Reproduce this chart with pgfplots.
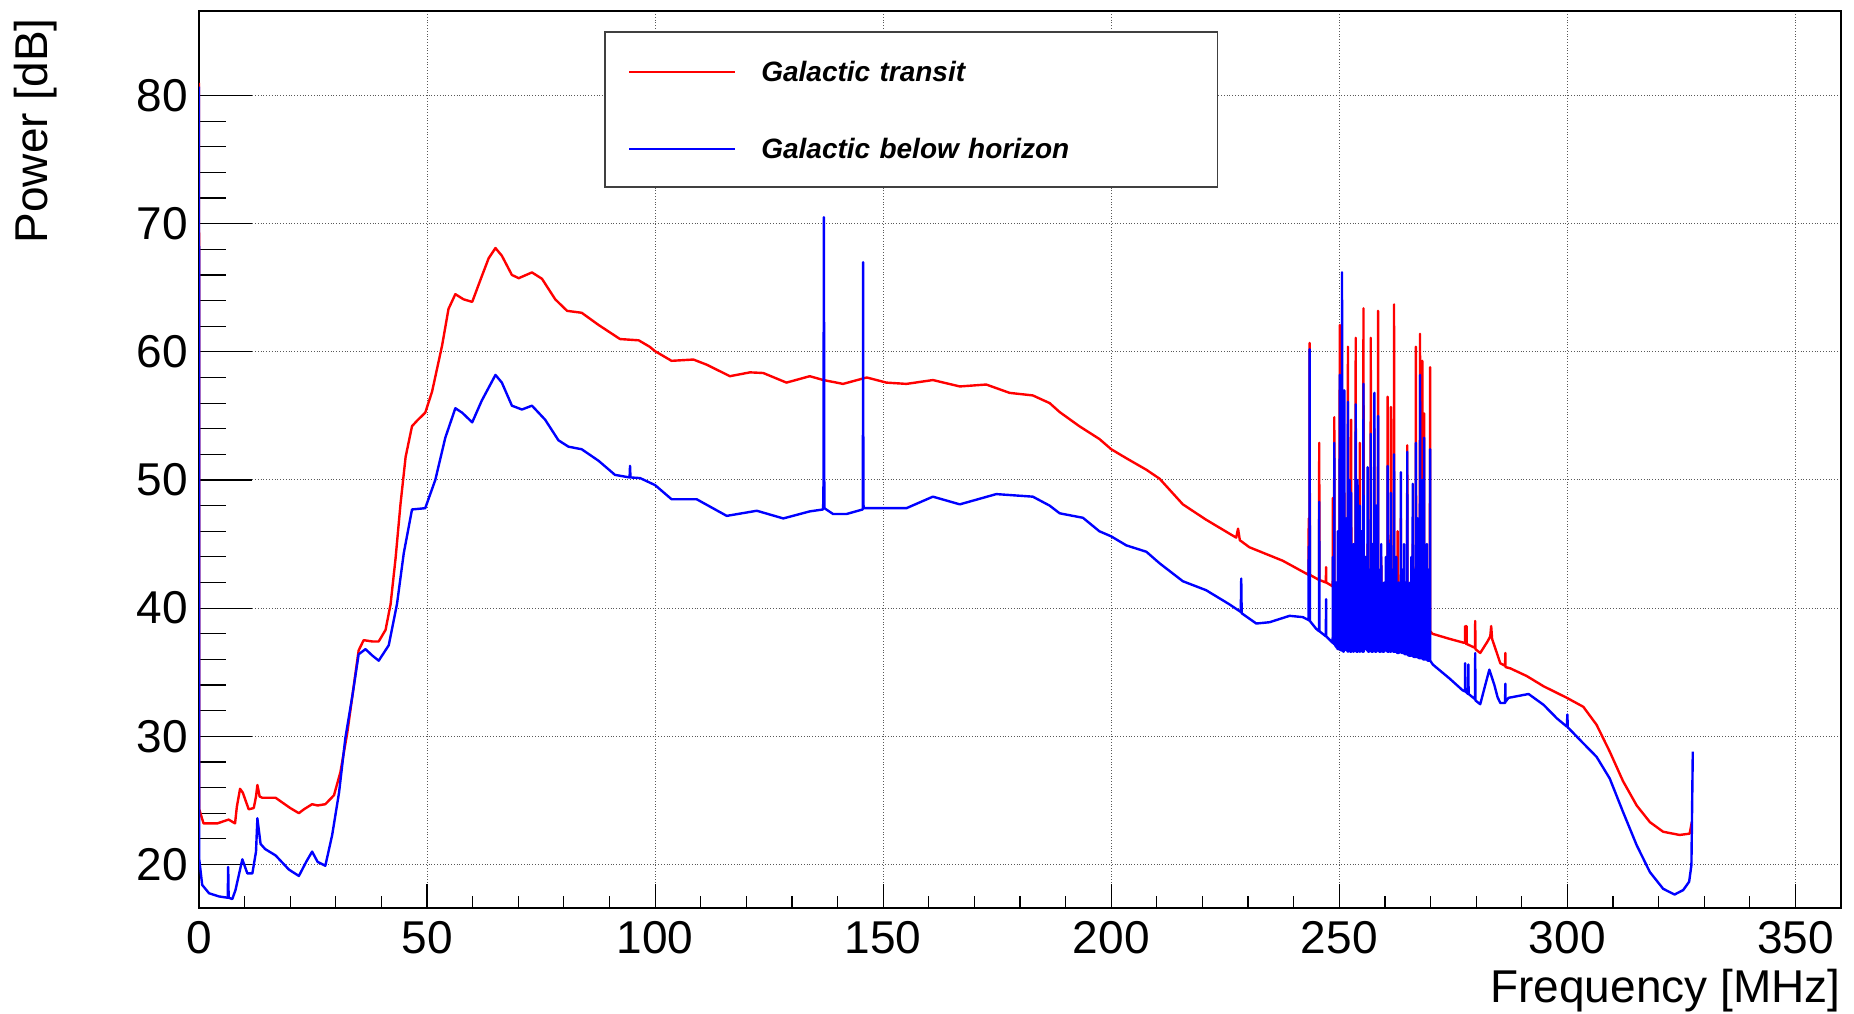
\documentclass[border=0pt]{standalone}
\usepackage{fontspec}
\setmainfont{Liberation Sans}
\usepackage{pgfplots}
\pgfplotsset{compat=1.18}
\begin{document}
\begin{tikzpicture}
\pgfplotsset{
  myax/.style={
    scale only axis, width=821pt, height=448.5pt,
    xmin=0, xmax=360, ymin=16.6, ymax=86.6,
    tick pos=left, tick align=inside,
    /pgf/number format/assume math mode=true,
  }
}
% background axis: frame, grid, x ticks, tick labels, axis titles
\begin{axis}[myax, name=axA,
  axis line style={line width=0.6pt, black},
  xtick={0,50,...,350}, minor x tick num=4,
  ytick={20,30,...,80}, minor y tick num=4,
  major tick length=12pt, minor tick length=6pt,
  tick style={line width=0.6pt, black},
  grid=major,
  major grid style={densely dotted, black!65, line width=0.5pt},
  tick label style={font=\fontsize{23}{23}\selectfont},
  xticklabel style={anchor=north, inner sep=0pt, yshift=-6.5pt},
  yticklabel style={anchor=east, inner sep=0pt, xshift=-5.5pt},
  xlabel={Frequency [MHz]}, ylabel={Power [dB]},
  every axis x label/.style={at={(axis description cs:1,-0.1048)}, anchor=base east, inner sep=0pt, font=\fontsize{23}{23}\selectfont},
  every axis y label/.style={at={(axis description cs:-0.0920,0.9922)}, rotate=90, anchor=base east, inner sep=0pt, font=\fontsize{23}{23}\selectfont},
]
\end{axis}
% foreground axis: data, legend, long y ticks
\begin{axis}[myax, name=ax,
  axis line style={draw=none},
  xtick=\empty,
  ytick={20,30,...,80}, minor y tick num=4, yticklabels={},
  major tick length=26.5pt, minor tick length=13.5pt,
  tick style={line width=0.6pt, black},
  legend image code/.code={\draw[#1] (0pt,5pt) -- (53pt,5pt);},
  legend style={at={(0.2467,0.9777)}, anchor=north west,
    draw=black!75, line width=0.8pt, fill=white,
    inner xsep=11.5pt, inner ysep=10pt, row sep=19.5pt, column sep=12.5pt,
    nodes={inner sep=0pt, text height=15pt, text depth=4pt, text width=216.5pt, align=left},
    cells={anchor=base west},
    font=\fontsize{14}{16}\selectfont\bfseries\itshape},
]
\addplot[color=red, line width=1.2pt, line join=round] coordinates {
(0,81.0) (0.05,24.3) (1,23.2) (4,23.2) (6.5,23.5) (7.9,23.2) (8.3,24.5) (9.0,25.9) (9.6,25.6) (10.9,24.3) (12.0,24.4) (12.5,25.3) (12.8,26.2) (13.3,25.3) (13.9,25.2) (16.8,25.2) (18,24.9) (20,24.4) (21.9,24.0) (23,24.3) (24.8,24.7) (26,24.6) (27.7,24.7) (29.6,25.4) (31,27.2) (32.5,30.25) (33.9,33.85) (35,36.7) (36.1,37.5) (38,37.4) (39.4,37.4) (40.9,38.3) (42,40.3) (43.1,43.9) (44.2,48.2) (45.3,51.8) (46.7,54.2) (48,54.7) (49.6,55.25) (51.1,56.9) (53.3,60.5) (54.7,63.35) (56.2,64.5) (58,64.1) (59.9,63.9) (62,65.9) (63.5,67.3) (65,68.1) (66.4,67.5) (68.6,66.0) (70.1,65.75) (73,66.2) (75.2,65.7) (78.1,64.1) (80.7,63.2) (83.9,63.05) (87.6,62.1) (92.3,61.0) (96.4,60.9) (98.8,60.4) (100,60.05) (103.6,59.3) (108.4,59.4) (111.3,59.0) (116.4,58.1) (120.8,58.4) (123.7,58.35) (128.8,57.6) (133.9,58.1) (136.9,57.8) (141.2,57.5) (146.4,58.0) (150.7,57.6) (155.1,57.5) (160.9,57.8) (166.8,57.3) (172.6,57.45) (177.7,56.8) (182.8,56.6) (186.5,56.0) (188.7,55.3) (193,54.2) (197.4,53.2) (200,52.4) (203.3,51.7) (207.7,50.8) (210.6,50.1) (215.7,48.1) (220.8,46.9) (227.4,45.5) (227.8,46.2) (228.2,45.3) (230.3,44.75) (237.6,43.7)
(243.25,42.6) (243.3,47.0) (243.35,42.6) (243.45,42.6) (243.5,60.7) (243.55,42.6) (245.55,42.2) (245.6,52.9) (245.65,42.2) (247.05,42.0) (247.1,43.2) (247.15,42.0) (248.55,41.7) (248.6,48.6) (248.65,41.7) (248.85,41.7) (248.9,54.9) (248.95,41.7) (250.05,41.5) (250.1,62.1) (250.15,41.5) (251.05,41.3) (251.1,49) (251.15,41.3) (251.85,41.2) (251.9,60.4) (251.95,41.2) (252.55,41.1) (252.6,54.7) (252.65,41.1) (253.05,41.0) (253.1,43) (253.15,41.0) (253.55,40.9) (253.6,61.1) (253.65,40.9) (253.95,40.8) (254.0,46) (254.05,40.8) (254.45,40.8) (254.5,52.9) (254.55,40.8) (255.25,40.6) (255.3,63.4) (255.35,40.6) (256.15,40.5) (256.2,45) (256.25,40.5) (256.85,40.4) (256.9,61.1) (256.95,40.4) (257.65,40.2) (257.7,54) (257.75,40.2) (258.45,40.1) (258.5,63.2) (258.55,40.1) (259.15,40.0) (259.2,44) (259.25,40.0) (260.55,39.7) (260.6,56.5) (260.65,39.7) (261.25,39.6) (261.3,55.7) (261.35,39.6) (261.95,39.5) (262.0,63.7) (262.05,39.5) (262.75,39.4) (262.8,46) (262.85,39.4) (263.45,39.3) (263.5,47) (263.55,39.3) (264.85,39.0) (264.9,52.7) (264.95,39.0) (266.05,38.8) (266.1,45) (266.15,38.8) (266.75,38.7) (266.8,60.4) (266.85,38.7) (267.65,38.6) (267.7,61.4) (267.75,38.6) (268.15,38.5) (268.2,59.3) (268.25,38.5) (268.55,38.4) (268.6,55.2) (268.65,38.4) (269.85,38.2) (269.9,58.8) (269.95,38.2)
(270.4,38.0) (274.2,37.6) (277.3,37.3) (277.55,37.3) (277.6,38.6) (277.65,37.3) (277.85,37.2) (277.9,38.6) (277.95,37.2) (279.75,36.9) (279.8,39.0) (279.85,36.8) (280.9,36.5) (282.5,37.4) (283.1,37.8) (283.3,38.6) (283.5,37.6) (285.3,35.7) (286.35,35.5) (286.4,36.5) (286.45,35.4) (287.5,35.3) (291.1,34.7) (294.8,33.9) (299.9,33.0) (303.5,32.3) (306.4,30.9) (309.3,28.8) (312.2,26.5) (315.2,24.6) (318.1,23.3) (321.0,22.55) (324.6,22.3) (326.8,22.4) (327.3,23.3)
};
\addlegendentry{Galactic transit}
\addplot[color=blue, line width=1.2pt, line join=round] coordinates {
(0,80.7) (0.05,20.4) (0.7,18.4) (2.2,17.75) (4.4,17.5) (6.3,17.4) (6.4,19.8) (6.5,17.4) (7.3,17.3) (8.0,18.0) (9.5,20.4) (10.6,19.3) (11.7,19.3) (12.5,21) (12.8,23.6) (13.5,21.6) (14.5,21.2) (16.8,20.7) (19.7,19.6) (21.9,19.1) (23.5,20.2) (24.8,21.0) (26,20.2) (27.7,19.9) (29.2,22.3) (30.7,25.6) (32.1,29.9) (33.6,33.1) (35,36.4) (36.5,36.8) (38,36.3) (39.4,35.9) (41.6,37.1) (43.4,40.3) (44.9,44.3) (46.7,47.7) (49.6,47.8) (51.8,50.0) (54,53.3) (56.2,55.6) (57.7,55.25) (59.9,54.5) (62,56.2) (65,58.2) (66.4,57.6) (68.6,55.8) (70.8,55.5) (73,55.8) (75.9,54.7) (78.8,53.1) (81,52.6) (83.9,52.4) (87.6,51.5) (91.2,50.4) (94.4,50.2) (94.5,51.1) (94.6,50.2) (96.7,50.15) (98.8,49.8) (100,49.6) (103.6,48.5) (109.1,48.5) (115.7,47.2) (122.3,47.6) (128.1,47.0) (133.9,47.55) (136.8,47.7) (136.9,48.5) (137.0,70.5) (137.1,47.8) (139,47.35) (142,47.35) (145.5,47.7) (145.55,48.0) (145.6,67.0) (145.65,50.5) (145.7,47.8) (150.7,47.8) (155.1,47.8) (160.9,48.7) (166.8,48.1) (174.8,48.9) (182.8,48.7) (186.5,48.0) (188.7,47.4) (193.8,47.05) (197.4,46.0) (200,45.6) (203.3,44.9) (207.7,44.4) (210.6,43.5) (215.7,42.1) (220.8,41.4) (225.9,40.3) (228.4,39.7) (228.5,42.3) (228.6,39.6) (231.8,38.8) (234.7,38.9) (239.1,39.4) (242,39.3) (243.1,39.1)
(243.25,39.1) (243.3,44.8) (243.35,39.1) (243.45,39.0) (243.5,60.2) (243.55,39.0) (244.9,38.4) (245.55,38.2) (245.6,48.3) (245.65,38.2) (247.05,37.8) (247.1,40.7) (247.15,37.8) (248.5,37.3) (248.55,37.3) (248.6,44) (248.65,37.3) (248.85,37.2) (248.9,52.9) (248.95,37.2)
(249.26,37.0) (249.3,42) (249.34,37.0) (249.46,36.9) (249.5,40) (249.54,36.9) (249.66,36.8) (249.7,46) (249.74,36.8) (249.86,36.8) (249.9,41) (249.94,36.8) (250.06,36.9) (250.1,58.2) (250.14,36.9) (250.21,36.8) (250.25,43) (250.29,36.8) (250.36,36.7) (250.4,48) (250.44,36.7) (250.56,36.8) (250.6,66.2) (250.64,36.8) (250.71,36.7) (250.75,41) (250.79,36.7) (250.86,36.6) (250.9,45) (250.94,36.6) (251.06,36.7) (251.1,57.0) (251.14,36.7) (251.26,36.8) (251.3,42) (251.34,36.8) (251.46,36.9) (251.5,47) (251.54,36.9) (251.66,36.7) (251.7,40) (251.74,36.7) (251.86,36.6) (251.9,56.1) (251.94,36.6) (252.06,36.7) (252.1,41) (252.14,36.7) (252.26,36.7) (252.3,50) (252.34,36.7) (252.41,36.6) (252.45,42) (252.49,36.6) (252.56,36.6) (252.6,49) (252.64,36.6) (252.71,36.7) (252.75,40) (252.79,36.7) (252.86,36.8) (252.9,43) (252.94,36.8) (253.06,36.6) (253.1,45) (253.14,36.6) (253.31,36.7) (253.35,41) (253.39,36.7) (253.56,36.7) (253.6,55.9) (253.64,36.7) (253.76,36.6) (253.8,42) (253.84,36.6) (253.96,36.6) (254.0,50) (254.04,36.6) (254.11,36.7) (254.15,40) (254.19,36.7) (254.26,36.8) (254.3,44) (254.34,36.8) (254.46,36.6) (254.5,48) (254.54,36.6) (254.66,36.7) (254.7,41) (254.74,36.7) (254.86,36.7) (254.9,46) (254.94,36.7) (255.06,36.6) (255.1,42) (255.14,36.6) (255.26,36.6) (255.3,57.5) (255.34,36.6) (255.51,36.8) (255.55,40) (255.59,36.8) (255.76,36.9) (255.8,44) (255.84,36.9) (255.96,36.8) (256.0,41) (256.04,36.8) (256.16,36.7) (256.2,51) (256.24,36.7) (256.31,36.6) (256.35,40) (256.39,36.6) (256.46,36.6) (256.5,43) (256.54,36.6) (256.66,36.7) (256.7,42) (256.74,36.7) (256.86,36.7) (256.9,53.6) (256.94,36.7) (257.06,36.6) (257.1,40) (257.14,36.6) (257.26,36.6) (257.3,45) (257.34,36.6) (257.46,36.7) (257.5,41) (257.54,36.7) (257.66,36.7) (257.7,56.8) (257.74,36.7) (257.86,36.6) (257.9,40) (257.94,36.6) (258.06,36.6) (258.1,48) (258.14,36.6) (258.26,36.7) (258.3,42) (258.34,36.7) (258.46,36.8) (258.5,55.0) (258.54,36.8) (258.61,36.7) (258.65,40) (258.69,36.7) (258.76,36.6) (258.8,43) (258.84,36.6) (258.96,36.6) (259.0,41) (259.04,36.6) (259.16,36.7) (259.2,45) (259.24,36.7) (259.46,36.6) (259.5,40) (259.54,36.6) (259.76,36.6) (259.8,42) (259.84,36.6) (259.96,36.7) (260.0,41) (260.04,36.7) (260.16,36.8) (260.2,44) (260.24,36.8) (260.36,36.7) (260.4,40) (260.44,36.7) (260.56,36.6) (260.6,51.1) (260.64,36.6) (260.76,36.6) (260.8,42) (260.84,36.6) (260.96,36.7) (261.0,45) (261.04,36.7) (261.11,36.6) (261.15,40) (261.19,36.6) (261.26,36.6) (261.3,49) (261.34,36.6) (261.46,36.7) (261.5,41) (261.54,36.7) (261.66,36.7) (261.7,43) (261.74,36.7) (261.81,36.6) (261.85,40) (261.89,36.6) (261.96,36.6) (262.0,52.0) (262.04,36.6) (262.21,36.6) (262.25,41) (262.29,36.6) (262.46,36.6) (262.5,44) (262.54,36.6) (262.71,36.5) (262.75,40) (262.79,36.5) (262.96,36.5) (263.0,42) (263.04,36.5) (263.21,36.6) (263.25,41) (263.29,36.6) (263.46,36.6) (263.5,50.6) (263.54,36.6) (263.66,36.5) (263.7,40) (263.74,36.5) (263.86,36.5) (263.9,43) (263.94,36.5) (264.01,36.5) (264.05,41) (264.09,36.5) (264.16,36.5) (264.2,45) (264.24,36.5) (264.36,36.4) (264.4,40) (264.44,36.4) (264.56,36.4) (264.6,42) (264.64,36.4) (264.71,36.4) (264.75,41) (264.79,36.4) (264.86,36.4) (264.9,52.2) (264.94,36.4) (265.16,36.3) (265.2,40) (265.24,36.3) (265.46,36.3) (265.5,42) (265.54,36.3) (265.61,36.3) (265.65,41) (265.69,36.3) (265.76,36.3) (265.8,44) (265.84,36.3) (265.91,36.3) (265.95,40) (265.99,36.3) (266.06,36.3) (266.1,49.7) (266.14,36.3) (266.26,36.2) (266.3,41) (266.34,36.2) (266.46,36.2) (266.5,43) (266.54,36.2) (266.61,36.2) (266.65,40) (266.69,36.2) (266.76,36.2) (266.8,52.9) (266.84,36.2) (266.96,36.2) (267.0,42) (267.04,36.2) (267.16,36.2) (267.2,47) (267.24,36.2) (267.41,36.1) (267.45,41) (267.49,36.1) (267.66,36.1) (267.7,58.2) (267.74,36.1) (267.81,36.1) (267.85,40) (267.89,36.1) (267.96,36.1) (268.0,44) (268.04,36.1) (268.16,36.1) (268.2,50) (268.24,36.1) (268.36,36.0) (268.4,42) (268.44,36.0) (268.56,36.0) (268.6,53.3) (268.64,36.0) (268.71,36.0) (268.75,40) (268.79,36.0) (268.86,36.0) (268.9,42) (268.94,36.0) (269.01,36.0) (269.05,41) (269.09,36.0) (269.16,36.0) (269.2,45) (269.24,36.0) (269.36,35.9) (269.4,40) (269.44,35.9) (269.56,35.9) (269.6,43) (269.64,35.9) (269.71,35.9) (269.75,41) (269.79,35.9) (269.86,35.9) (269.9,52.4) (269.94,35.9)
(270.5,35.6) (274.2,34.5) (277.0,33.6) (277.55,33.5) (277.6,35.7) (277.65,33.5) (278.25,33.3) (278.3,35.6) (278.35,33.3) (279.75,32.9) (279.8,36.5) (279.85,32.8) (280.9,32.5) (282.0,34.0) (282.9,35.2) (284.0,34.0) (284.7,33.05) (285.3,32.6) (286.35,32.6) (286.4,34.1) (286.45,32.7) (287.1,33.0) (291.5,33.3) (294.8,32.45) (297.7,31.4) (299.9,30.75) (300.0,31.7) (300.1,30.7) (303.5,29.45) (306.4,28.4) (309.3,26.7) (312.2,24.1) (315.2,21.5) (318.1,19.4) (321.0,18.1) (323.5,17.65) (325.4,18.0) (326.7,18.65) (327.2,19.95) (327.5,28.8)
};
\addlegendentry{Galactic below horizon}
\end{axis}
\pgfresetboundingbox
\path ([shift={(-99.5pt,-53pt)}]ax.south west) rectangle ([shift={(6.5pt,5.5pt)}]ax.north east);
\end{tikzpicture}
\end{document}
